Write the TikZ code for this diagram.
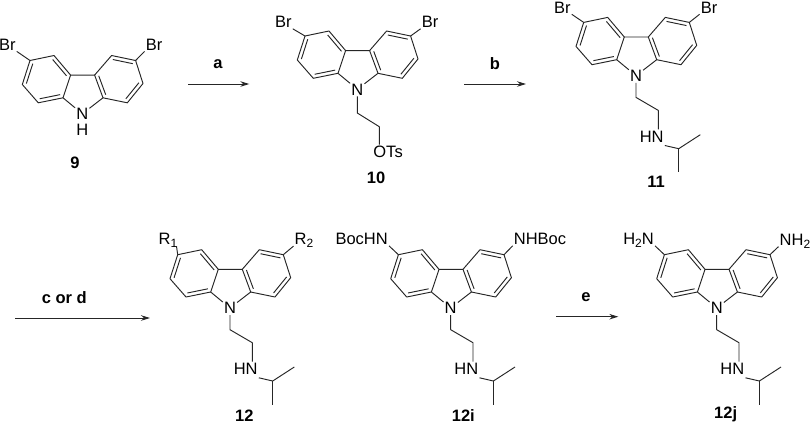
\documentclass[tikz,border=0pt]{standalone}
\usepackage{fontspec}
\setmainfont{Liberation Sans}
\usetikzlibrary{arrows.meta,calc}

\tikzset{
  bond/.style={line width=0.95pt,black!85},
  atom/.style={font=\fontsize{16.5}{16.5}\selectfont,inner sep=1pt,text height=11.8pt,text depth=0pt},
  cpd/.style={font=\fontsize{16.5}{16.5}\selectfont\bfseries,inner sep=0pt},
  rxn/.style={line width=0.95pt,black!85,-{Stealth[length=9pt,width=5.5pt]}}
}
\newcommand{\lowidx}[1]{\raisebox{-3pt}{\fontsize{12}{12}\selectfont #1}}

% Carbazole rings, origin on the N label
\newcommand{\carbazole}[2]{
\begin{scope}[shift={(#2)},name prefix=#1-]
\node[atom] (N) at (0,0) {N};
\foreach \n/\p in {a/{-19.3,-16},b/{-11.7,-38.7},c/{12.3,-38.7},d/{20.7,-16},
  l1/{-44,-11},l2/{-60,-29.3},l3/{-52.3,-53.3},l4/{-28.3,-58.3},
  r1/{45,-11},r2/{60.7,-30.3},r3/{53.3,-53.3},r4/{29.3,-58.3},
  lc/{-36,-34.7},rc/{36.5,-34.7}}
  \coordinate (\n) at (\p);
\draw[bond] (N) -- (a) -- (b) -- (c) -- (d) -- (N);
\draw[bond,line join=round] (a) -- (l1) -- (l2) -- (l3) -- (l4) -- (b);
\draw[bond,line join=round] (d) -- (r1) -- (r2) -- (r3) -- (r4) -- (c);
% Inner double bonds
\foreach \u/\v/\w in {a/l1/lc,l2/l3/lc,l4/b/lc,c/d/rc,r1/r2/rc,r3/r4/rc}
  \draw[bond] ($(\u)!0.17!(\w)$) -- ($(\v)!0.17!(\w)$);
\end{scope}
}

% Ethyl chain ending in NH-iPr
\newcommand{\sidechain}[2]{
\begin{scope}[shift={(#2)},name prefix=#1-]
\coordinate (e1) at (0,21.7);
\coordinate (e2) at (22.3,34.7);
\node[atom] (HN) at (15.7,60.7) {HN};
\coordinate (ip) at (42.7,73);
\coordinate (me1) at (64.3,59);
\coordinate (me2) at (42.7,96.7);
\draw[bond,line join=round] (N) -- (e1) -- (e2) -- (e2 |- HN.north);
\draw[bond,line join=round] (HN.south east) ++(0,2) -- (ip) -- (me1);
\draw[bond] (ip) -- (me2);
\end{scope}
}

\begin{document}
\begin{tikzpicture}[x=1pt,y=-1pt]
\useasboundingbox (0,0) rectangle (810,424);

% Compound 9
\carbazole{m9}{82.3,113.8}
\node[atom,inner sep=0pt] (m9-H) at (82.3,129.5) {H};
\node[atom] (m9-brl) at (7.3,44.3) {Br};
\node[atom] (m9-brr) at (154,44.3) {Br};
\draw[bond] (m9-l3) -- (m9-brl.south east);
\draw[bond] (m9-r3) -- (m9-brr.south west);
\node[cpd] (lab9) at (75,162.7) {9};

% Arrow a
\coordinate (aw) at (188,84);
\coordinate (ae) at (249.3,84);
\draw[rxn] (aw) -- (ae);
\node[cpd] (laba) at (218,64) {a};

% Compound 10
\carbazole{m10}{357.3,89.3}
\node[atom] (m10-brl) at (283.3,21.7) {Br};
\node[atom] (m10-brr) at (430,21.7) {Br};
\draw[bond] (m10-l3) -- (m10-brl.south east);
\draw[bond] (m10-r3) -- (m10-brr.south west);
\coordinate (m10-e1) at (357.3,113);
\coordinate (m10-e2) at (379.3,126.7);
\node[atom,anchor=west] (m10-ots) at (372.2,151.7) {OTs};
\draw[bond,line join=round] (m10-N) -- (m10-e1) -- (m10-e2) -- (m10-e2 |- m10-ots.north);
\node[cpd] (lab10) at (376,178.3) {10};

% Arrow b
\coordinate (bw) at (464.3,84);
\coordinate (be) at (526,84);
\draw[rxn] (bw) -- (be);
\node[cpd] (labb) at (495,64) {b};

% Compound 11
\carbazole{m11}{636,75.7}
\sidechain{m11}{636,75.7}
\node[atom] (m11-brl) at (562.3,7.2) {Br};
\node[atom] (m11-brr) at (709,7.2) {Br};
\draw[bond] (m11-l3) -- (m11-brl.south east);
\draw[bond] (m11-r3) -- (m11-brr.south west);
\node[cpd] (lab11) at (656,182.3) {11};

% Arrow c or d
\coordinate (cw) at (15.3,318);
\coordinate (ce) at (150,318);
\draw[rxn] (cw) -- (ce);
\node[cpd] (labc) at (64.3,298) {c or d};

% Compound 12
\carbazole{m12}{230,308}
\sidechain{m12}{230,308}
\node[atom,anchor=west] (m12-rl) at (157.5,239) {R\lowidx{1}};
\node[atom,anchor=west] (m12-rr) at (293.5,239) {R\lowidx{2}};
\draw[bond] (m12-l3) -- ($(m12-rl.south east)+(-2,0)$);
\draw[bond] (m12-r3) -- (m12-rr.south west);
\node[cpd] (lab12) at (244.3,415.3) {12};

% Compound 12i
\carbazole{m12i}{450.7,308}
\sidechain{m12i}{450.7,308}
\node[atom,anchor=east] (m12i-rl) at (389,238.7) {BocHN};
\node[atom,anchor=west] (m12i-rr) at (512.7,238.7) {NHBoc};
\draw[bond] (m12i-l3) -- (m12i-rl.south east);
\draw[bond] (m12i-r3) -- (m12i-rr.south west);
\node[cpd] (lab12i) at (463.3,415.3) {12i};

% Arrow e
\coordinate (ew) at (556,316.7);
\coordinate (ee) at (618.3,316.7);
\draw[rxn] (ew) -- (ee);
\node[cpd] (labe) at (586,297) {e};

% Compound 12j
\carbazole{m12j}{716.7,308}
\sidechain{m12j}{716.7,308}
\node[atom,anchor=east] (m12j-rl) at (655,238.7) {H\lowidx{2}N};
\node[atom,anchor=west] (m12j-rr) at (778.5,239.5) {NH\lowidx{2}};
\draw[bond] (m12j-l3) -- (m12j-rl.south east);
\draw[bond] (m12j-r3) -- (m12j-rr.south west);
\node[cpd] (lab12j) at (725.7,414.3) {12j};

\end{tikzpicture}
\end{document}
